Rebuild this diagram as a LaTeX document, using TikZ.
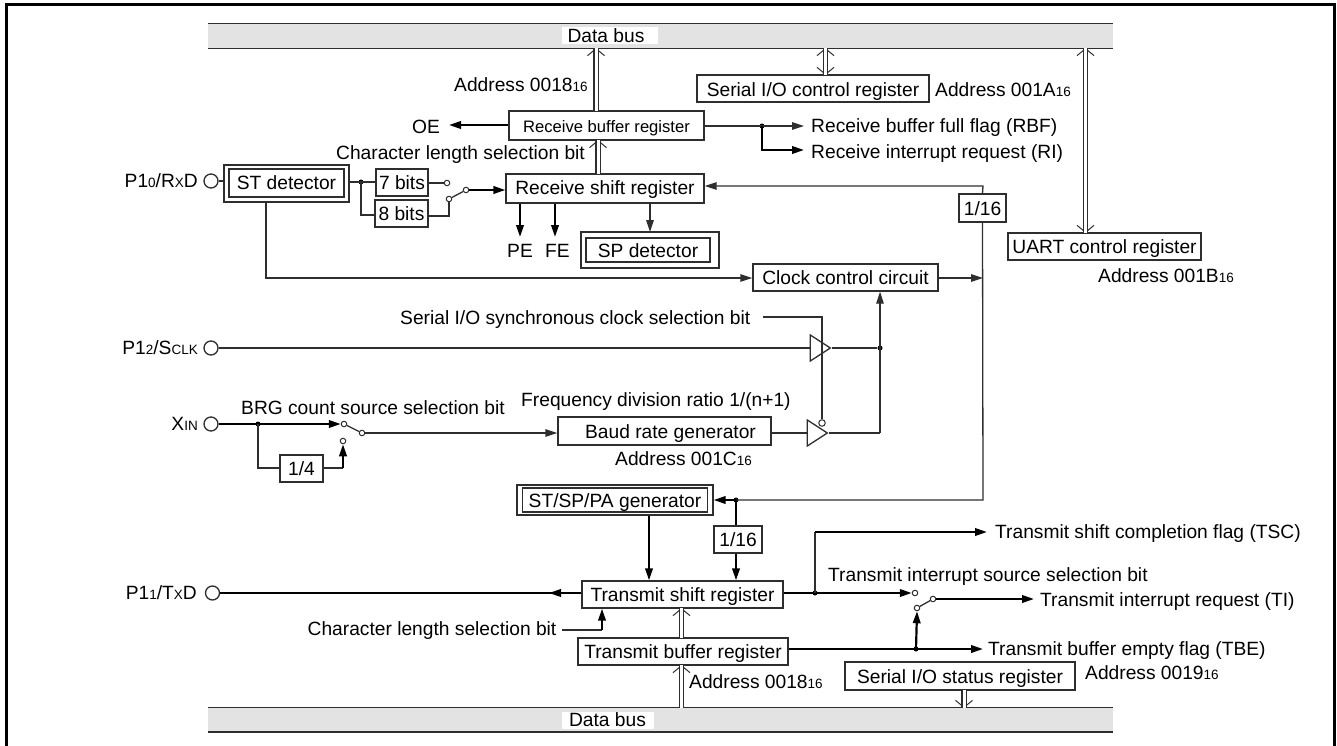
\documentclass[tikz,border=0pt]{standalone}
\usepackage{fontspec}
\setmainfont{Liberation Sans}
\usetikzlibrary{arrows.meta,shapes.geometric,calc}
\definecolor{ln}{HTML}{2E2E2E}
\definecolor{busg}{HTML}{E3E3E3}
\newcommand{\tx}{\fontsize{19.2}{21}\selectfont}
\newcommand{\sbs}[1]{{\fontsize{13.5}{14}\selectfont #1}}
\tikzset{
 thinl/.style={line width=1.3pt,draw=ln},
 thickl/.style={line width=2.2pt,draw=black},
 head/.style={-{Triangle[length=12pt,width=7.5pt]}},
 box/.style={draw=ln,line width=1.3pt,fill=white,inner sep=0pt,font=\tx,align=center,text height=16pt,text depth=2pt},
 lbl/.style={inner sep=0pt,font=\tx,anchor=west,text height=15.5pt,text depth=2.5pt},
 lblr/.style={inner sep=0pt,font=\tx,anchor=east,text height=15.5pt,text depth=2.5pt},
 pad/.style={circle,draw=ln,line width=1.3pt,minimum size=14pt,inner sep=0pt,fill=white},
 cont/.style={circle,draw=ln,line width=1pt,minimum size=5.5pt,inner sep=0pt,fill=white},
 dot/.style={circle,fill=black,minimum size=5pt,inner sep=0pt},
 buffer/.style={isosceles triangle,isosceles triangle stretches=true,draw=ln,line width=1.3pt,fill=white,minimum width=26pt,minimum height=20pt,inner sep=0pt},
 busbar/.style={fill=busg,inner sep=0pt,minimum width=905pt,minimum height=24pt},
 buslab/.style={fill=white,inner sep=0pt,font=\tx,minimum height=17pt},
 dblc/.style={line width=1pt,draw=ln},
 dbll/.style={double,double distance=3pt,line width=1.3pt,draw=ln,double=white},
 cheve/.style={-{Straight Barb[length=7pt,width=17pt]}},
 chevb/.style={{Straight Barb[length=7pt,width=17pt]}-{Straight Barb[length=7pt,width=17pt]}},
}
\begin{document}
\begin{tikzpicture}[x=1pt,y=-1pt]
\useasboundingbox (0,0) rectangle (1337,746);
\coordinate (fbl) at (6.5,746);
\coordinate (ftl) at (6.5,5);
\coordinate (ftr) at (1334,5);
\coordinate (fbr) at (1334,746);
\draw[line width=3pt,draw=black] (fbl) -- (ftl) -- (ftr) -- (fbr);

% buses
\node[busbar] (tbus) at (660.5,36) {};
\draw[thinl] (tbus.north west) -- (tbus.north east) (tbus.south west) -- (tbus.south east);
\node[buslab,minimum width=96pt] (tbl) at (610,35.5) {Data bus\hspace*{8pt}};
\node[busbar] (bbus) at (660.5,720) {};
\draw[thinl] (bbus.north west) -- (bbus.north east);
\draw[line width=1.6pt,draw=ln] (bbus.south west) -- (bbus.south east);
\node[buslab,minimum width=92pt] (bbl) at (607.5,720) {Data bus};

% receive side boxes
\node[box,minimum width=232pt,minimum height=27pt] (sioc) at (813,88.5) {\raisebox{-1pt}{Serial I/O control register}};
\node[lbl] (a1a) at (935,90) {Address 001A\sbs{16}};
\node[lbl] (a18t) at (454,85) {Address 0018\sbs{16}};
\node[box,minimum width=195pt,minimum height=29pt,font=\fontsize{16.6}{18}\selectfont] (rb) at (606.5,125.5) {Receive buffer register};
\node[box,minimum width=198pt,minimum height=29pt] (rs) at (605,188.5) {\raisebox{1pt}{Receive shift register}};
\node[lbl] (oe) at (412,127) {OE};
\node[lbl] (rbf) at (811,126) {Receive buffer full flag (RBF)};
\node[lbl] (ri) at (811,152) {Receive interrupt request (RI)};
\node[lbl] (cl1) at (336,153) {Character length selection bit};
\node[lblr] (p10) at (198,181) {P1\sbs{0}/R\sbs{X}D};
\node[pad] (p10p) at (211,181) {};
\node[box,minimum width=125pt,minimum height=37pt] (stdo) at (286.5,183.5) {};
\node[box,minimum width=115pt,minimum height=28pt] (std) at (286.5,183) {\raisebox{1pt}{ST detector}};
\node[box,minimum width=52pt,minimum height=27pt] (b7) at (402,182.5) {7 bits};
\node[box,minimum width=53pt,minimum height=27pt] (b8) at (401.5,213.5) {8 bits};
\node[cont] (c7) at (447,183) {};
\node[cont] (c8) at (449,199) {};
\node[cont] (cc) at (466,190) {};
\node[lbl] (pe) at (507,251) {PE};
\node[lbl] (fe) at (545,251) {FE};
\node[box,minimum width=138pt,minimum height=36pt] (spo) at (650,250) {};
\node[box,minimum width=124pt,minimum height=24pt] (sp) at (648,250) {SP detector};
\node[box,minimum width=47pt,minimum height=28pt] (d161) at (982.5,208) {1/16};
\node[box,minimum width=193pt,minimum height=27pt] (uart) at (1104.5,246.5) {UART control register};
\node[lbl] (a1b) at (1098,276) {Address 001B\sbs{16}};
\node[box,minimum width=185pt,minimum height=27pt] (ccc) at (845.5,277.5) {Clock control circuit};

% clock part
\node[lbl] (ssel) at (400,318) {Serial I/O synchronous clock selection bit};
\node[lblr] (p12) at (198,348) {P1\sbs{2}/S\sbs{CLK}};
\node[pad] (p12p) at (211,348) {};
\node[buffer,anchor=apex] (b1) at (832,348) {};
\node[lblr] (xin) at (198,424) {X\sbs{IN}};
\node[pad] (xinp) at (211,424) {};
\node[lbl] (brg) at (241,408) {BRG count source selection bit};
\node[lbl] (fdr) at (521,400) {Frequency division ratio 1/(n+1)};
\node[box,minimum width=213pt,minimum height=28pt] (baud) at (664.5,431) {\hspace*{12pt}Baud rate generator};
\node[lbl] (a1c) at (615,459) {Address 001C\sbs{16}};
\node[buffer,anchor=apex] (b2) at (829,433) {};
\node[cont,minimum size=6.5pt] (bub) at (822,423) {};
\node[cont] (x1) at (344,424) {};
\node[cont] (x2) at (343,441) {};
\node[cont] (x3) at (362,433) {};
\node[box,minimum width=43pt,minimum height=27pt] (d4) at (301.5,468.5) {1/4};

% transmit side
\node[box,minimum width=196pt,minimum height=30pt] (genO) at (615,500) {};
\node[box,minimum width=185pt,minimum height=24pt] (gen) at (615,500) {ST/SP/PA generator};
\node[box,minimum width=48pt,minimum height=27pt] (d162) at (738,539.5) {1/16};
\node[box,minimum width=201pt,minimum height=27pt] (ts) at (682.5,594.5) {Transmit shift register};
\node[box,minimum width=210pt,minimum height=27pt] (tb) at (683,651.5) {Transmit buffer register};
\node[box,minimum width=230pt,minimum height=28pt] (sios) at (960,676) {Serial I/O status register};
\node[lblr] (p11) at (197,593) {P1\sbs{1}/T\sbs{X}D};
\node[pad] (p11p) at (212.5,593) {};
\node[lbl] (cl2) at (307.5,629) {Character length selection bit};
\node[lbl] (a18b) at (689,682) {Address 0018\sbs{16}};
\node[lbl] (a19) at (1085,673) {Address 0019\sbs{16}};
\node[lbl] (tsc) at (995,532) {Transmit shift completion flag (TSC)};
\node[lbl] (tisel) at (828,575) {Transmit interrupt source selection bit};
\node[lbl] (ti) at (1040,600) {Transmit interrupt request (TI)};
\node[lbl] (tbe) at (988,649) {Transmit buffer empty flag (TBE)};
\node[cont] (t1) at (915,593) {};
\node[cont] (t2) at (917,608) {};
\node[cont] (t3) at (933,599) {};

% double bus arrows
\coordinate (d1a) at (596,111); \coordinate (d1b) at (596,48);
\draw[dblc,cheve] (d1a) -- (d1b); \draw[dbll] (d1a) -- (d1b);
\coordinate (d2a) at (825.5,75); \coordinate (d2b) at (825.5,48);
\draw[dblc,chevb] (d2a) -- (d2b); \draw[dbll] (d2a) -- (d2b);
\coordinate (d3a) at (1085.5,233); \coordinate (d3b) at (1085.5,48);
\draw[dblc,chevb] (d3a) -- (d3b); \draw[dbll] (d3a) -- (d3b);
\coordinate (d4a) at (598,174); \coordinate (d4b) at (598,140);
\draw[dblc,cheve] (d4a) -- (d4b); \draw[dbll] (d4a) -- (d4b);
\coordinate (d5a) at (681.5,638); \coordinate (d5b) at (681.5,608);
\draw[dblc,cheve] (d5a) -- (d5b); \draw[dbll] (d5a) -- (d5b);
\coordinate (d6a) at (681.5,708); \coordinate (d6b) at (681.5,665);
\draw[dblc,cheve] (d6a) -- (d6b); \draw[dbll] (d6a) -- (d6b);
\coordinate (d7a) at (964,690); \coordinate (d7b) at (964,708);
\draw[dblc,cheve] (d7a) -- (d7b); \draw[dbll] (d7a) -- (d7b);

% receive connectors
\coordinate (oetip) at (449,125);
\draw[thickl,head] (rb.west |- oetip) -- (oetip);
\node[dot] (j1) at (762,126) {};
\coordinate (rbft) at (804,126);
\coordinate (ritt) at (804,150);
\draw[thinl,head] (rb.east |- j1) -- (rbft);
\draw[thickl,head] (j1.center) |- (ritt);
\coordinate (rsin) at (983,186);
\draw[thinl,head] (d161.north) -- (rsin) -- (rs.east |- rsin);
\draw[thinl] (p10p) -- (stdo.west |- p10p);
\node[dot] (j2) at (361,182) {};
\draw[thinl] (stdo.east |- j2) -- (b7.west |- j2);
\draw[thinl] (j2.center) |- (b8.west |- 0,215);
\draw[thinl] (b7.east |- c7) -- (c7);
\draw[thinl] (b8.east |- 0,216) -| (c8);
\draw[thinl] (c8) -- (cc);
\coordinate (rsw) at (rs.west |- cc);
\draw[thickl,head] (cc) -- (rsw);
\coordinate (pet) at (520,237);
\coordinate (fet) at (555,237);
\draw[thickl,head] (rs.south -| pet) -- (pet);
\draw[thickl,head] (rs.south -| fet) -- (fet);
\coordinate (spt) at (650,232);
\draw[thinl,head] (rs.south -| spt) -- (spt);
\coordinate (stdown) at (266,278);
\draw[thinl,head] (stdo.south -| stdown) -- (stdown) -- (ccc.west |- stdown);
\coordinate (rj) at (983,278);
\draw[thinl,head] (ccc.east |- rj) -- (rj);

% clock connectors
\coordinate (selst) at (763,317);
\coordinate (selc) at (822,317);
\draw[thinl] (selst) -- (selc) -- (bub.north);
\draw[thinl] (p12p) -- (b1.lower side);
\node[dot] (j3) at (880,348) {};
\coordinate (j4) at (880,433);
\draw[thinl] (b1.apex) -- (j3);
\draw[thinl,head] (j4) -- (j3.center) -- (ccc.south -| j3);
\draw[thinl] (b2.apex) -- (j4);
\draw[thinl] (baud.east |- j4) -- (b2.lower side);
\draw[thickl,head] (xinp) -- (x1.west);
\node[dot] (j5) at (258,424) {};
\coordinate (j5b) at (258,468);
\draw[thinl] (j5.center) -- (j5b) -- (d4.west |- j5b);
\coordinate (d4r) at (343,468);
\draw[thinl] (d4.east |- d4r) -- (d4r);
\draw[thickl,head] (d4r) -- (x2.south);
\draw[thinl] (x1) -- (x3);
\draw[thinl,head] (x3) -- (baud.west |- x3);

% transmit connectors
\node[dot] (j6) at (736,500) {};
\coordinate (rdown) at (983,500);
\draw[thinl] (d161.south) -- (rdown) -- (j6.center);
\draw[thickl,head] (j6.center) -- (genO.east |- j6);
\draw[thickl] (j6.center) -- (d162.north -| j6);
\draw[thickl,head] (d162.south -| j6) -- (ts.north -| j6);
\coordinate (gnd) at (649,500);
\draw[thickl,head] (genO.south -| gnd) -- (ts.north -| gnd);
\draw[thickl] (ts.west |- p11p) -- (p11p);
\coordinate (ta1) at (549,593);
\coordinate (ta2) at (570,593);
\draw[thickl,{Triangle[length=12pt,width=7.5pt]}-] (ta1) -- (ta2);
\coordinate (cl2a) at (562,630);
\coordinate (cl2b) at (602,630);
\draw[thinl] (cl2a) -- (cl2b);
\draw[thickl,head] (cl2b) -- (ts.south -| cl2b);
\node[dot] (j7) at (815,593) {};
\draw[thickl] (ts.east |- j7) -- (j7.center);
\draw[thickl,head] (j7.center) -- (t1.west);
\coordinate (tsct) at (987,532);
\draw[thinl] (j7.center) -- (j7.center |- tsct);
\draw[thickl,head] (j7.center |- tsct) -- (tsct);
\draw[thinl] (t2) -- (t3);
\coordinate (tit) at (1034,599);
\draw[thickl,head] (t3) -- (tit);
\node[dot] (j8) at (916,649) {};
\coordinate (tbet) at (983,649);
\draw[thickl,head] (tb.east |- j8) -- (tbet);
\draw[thickl,head] (j8.center) -- (t2.south);
\end{tikzpicture}
\end{document}
